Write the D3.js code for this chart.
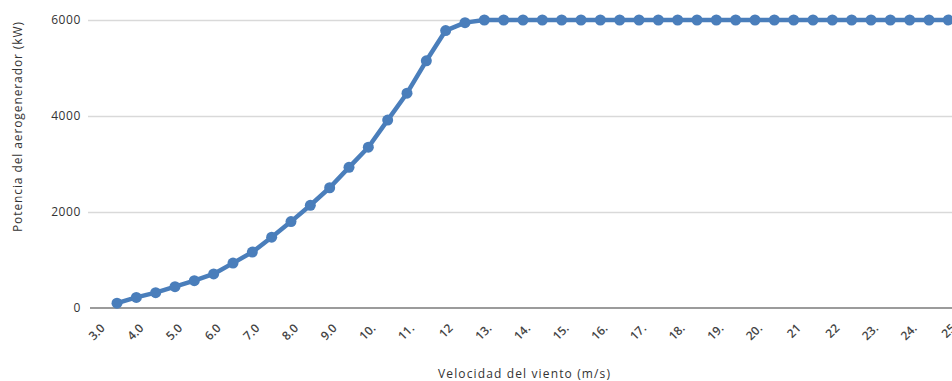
<!DOCTYPE html>
<html>
<head>
<meta charset="utf-8">
<script src="https://cdn.jsdelivr.net/npm/d3@7"></script>
<style>
  html, body { margin: 0; padding: 0; background: #fff; overflow: hidden; }
  svg { display: block; font-family: "Open Sans", "Liberation Sans", sans-serif; }
</style>
</head>
<body>
<svg id="chart" width="952" height="381"></svg>
<script>
// Wind speed categories (m/s), 3.0 .. 25.0 in 0.5 steps
const categories = ["3.0","3.5","4.0","4.5","5.0","5.5","6.0","6.5","7.0","7.5","8.0","8.5","9.0","9.5","10.0","10.5","11.0","11.5","12.0","12.5","13.0","13.5","14.0","14.5","15.0","15.5","16.0","16.5","17.0","17.5","18.0","18.5","19.0","19.5","20.0","20.5","21.0","21.5","22.0","22.5","23.0","23.5","24.0","24.5","25.0"];
// Power (kW); no value at 3.0
const power = [null,100,220,320,445,570,710,935,1165,1475,1800,2140,2505,2930,3350,3915,4475,5150,5780,5945,6000,6000,6000,6000,6000,6000,6000,6000,6000,6000,6000,6000,6000,6000,6000,6000,6000,6000,6000,6000,6000,6000,6000,6000,6000];
// Visible tick labels (every other category), as shown in the picture
const tickLabels = ["3.0","4.0","5.0","6.0","7.0","8.0","9.0","10.","11.","12","13.","14.","15.","16.","17.","18.","19.","20.","21","22","23.","24.","25"];
const yTicks = [0, 2000, 4000, 6000];
const yTitle = "Potencia del aerogenerador (kW)";
const xTitle = "Velocidad del viento (m/s)";

const svg = d3.select("#chart");
const mLeft = 88, mRight = 958, mTop = 20, mBottom = 308;

const x = d3.scaleBand().domain(categories).range([mLeft, mRight]).padding(0);
const cx = c => x(c) + x.bandwidth() / 2;
const y = d3.scaleLinear().domain([0, 6000]).range([mBottom, mTop]);

// gridlines
svg.append("g").selectAll("line").data(yTicks.filter(d => d > 0)).join("line")
  .attr("x1", mLeft).attr("x2", mRight)
  .attr("y1", d => Math.round(y(d)) + 0.5).attr("y2", d => Math.round(y(d)) + 0.5)
  .attr("stroke", "#d9d9d9").attr("stroke-width", 1.5);

// x axis line
svg.append("line")
  .attr("x1", mLeft + 2).attr("x2", mRight)
  .attr("y1", mBottom).attr("y2", mBottom)
  .attr("stroke", "#7a7a7a").attr("stroke-width", 1.5);

// y tick labels
svg.append("g").selectAll("text").data(yTicks).join("text")
  .attr("x", 81).attr("y", d => y(d)).attr("dy", "0.36em")
  .attr("text-anchor", "end")
  .attr("font-size", 12).attr("letter-spacing", 0.6).attr("fill", "#333")
  .text(d => d);

// x tick labels (every other category)
const labelCats = categories.filter((c, i) => i % 2 === 0);
svg.append("g").selectAll("text").data(labelCats).join("text")
  .attr("transform", c => `translate(${cx(c) + 8},${mBottom + 21}) rotate(-45)`)
  .attr("text-anchor", "end")
  .attr("font-size", 12).attr("font-weight", 600).attr("fill", "#444")
  .text((c, i) => tickLabels[i]);

// line
const pts = categories.map((c, i) => ({c, v: power[i]})).filter(d => d.v !== null);
const line = d3.line().x(d => cx(d.c)).y(d => y(d.v));
svg.append("path").datum(pts)
  .attr("d", line).attr("fill", "none")
  .attr("stroke", "#4a7ebb").attr("stroke-width", 4.5)
  .attr("stroke-linejoin", "round");

svg.append("g").selectAll("circle").data(pts).join("circle")
  .attr("cx", d => cx(d.c)).attr("cy", d => y(d.v)).attr("r", 5.5)
  .attr("fill", "#4a7ebb");

// axis titles
svg.append("text")
  .attr("transform", `translate(22,127) rotate(-90)`)
  .attr("text-anchor", "middle")
  .attr("font-size", 12).attr("fill", "#333")
  .attr("textLength", 210).attr("lengthAdjust", "spacing")
  .text(yTitle);

svg.append("text")
  .attr("x", 524).attr("y", 378)
  .attr("text-anchor", "middle")
  .attr("font-size", 12).attr("fill", "#333")
  .attr("textLength", 172).attr("lengthAdjust", "spacing")
  .text(xTitle);
</script>
</body>
</html>
